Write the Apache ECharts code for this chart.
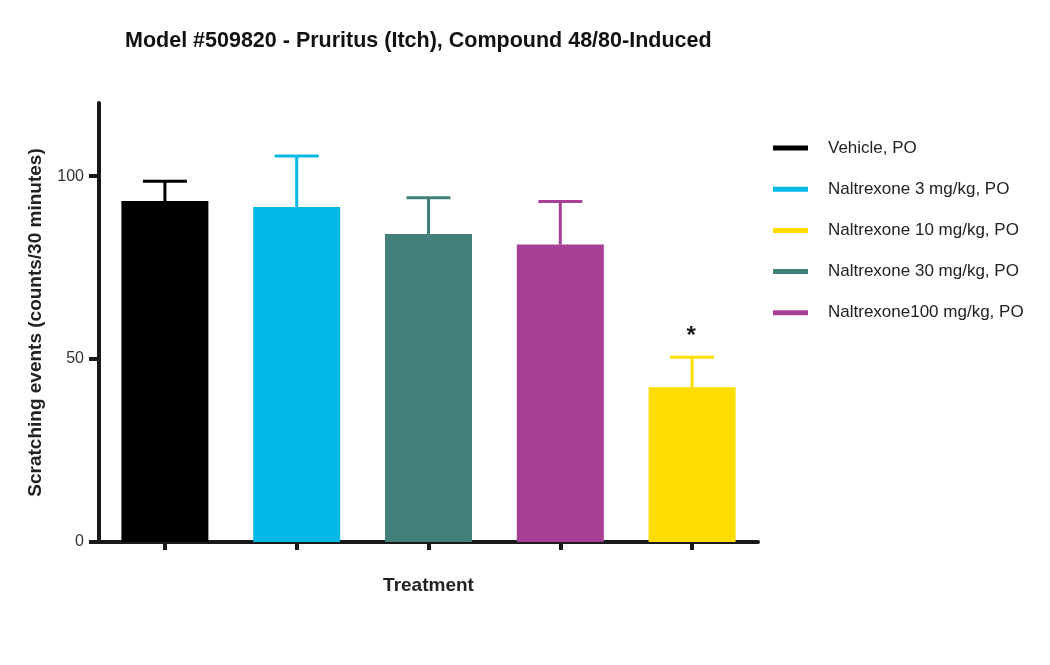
<!DOCTYPE html>
<html>
<head>
<meta charset="utf-8">
<script src="https://cdn.jsdelivr.net/npm/echarts@6/dist/echarts.min.js"></script>
<style>
  html, body { margin: 0; padding: 0; background: #fff; }
  #chart { width: 1050px; height: 665px; }
</style>
</head>
<body>
<div id="chart"></div>
<script>
// bar order on the x axis
var groups = ['Vehicle, PO', 'Naltrexone 3 mg/kg, PO', 'Naltrexone 30 mg/kg, PO', 'Naltrexone100 mg/kg, PO', 'Naltrexone 10 mg/kg, PO'];
var means = [93.2, 91.6, 84.2, 81.3, 42.3];
var sem = [5.4, 13.9, 9.9, 11.8, 8.2];
var signif = ['', '', '', '', '*'];
var colors = ['#000000', '#00b8e5', '#43807c', '#a83f96', '#ffdd00'];
// legend order as in the picture
var legendOrder = ['Vehicle, PO', 'Naltrexone 3 mg/kg, PO', 'Naltrexone 10 mg/kg, PO', 'Naltrexone 30 mg/kg, PO', 'Naltrexone100 mg/kg, PO'];
var yTicks = [0, 50, 100];

var font = 'Liberation Sans, Arial, Helvetica, sans-serif';
var myChart = echarts.init(document.getElementById('chart'));

var series = [];
for (var i = 0; i < groups.length; i++) {
    var d = [];
    for (var j = 0; j < groups.length; j++) {
        d.push(j == i ? means[i] : '-');
    }
    series.push({
        name: groups[i],
        type: 'bar',
        barWidth: '66%',
        barGap: '-100%',
        itemStyle: { color: colors[i] },
        data: d
    });
}

var errData = [];
for (var i = 0; i < groups.length; i++) {
    errData.push([i, means[i], means[i] + sem[i]]);
}
series.push({
    name: 'err',
    type: 'custom',
    z: 5,
    data: errData,
    renderItem: function (params, api) {
        var idx = api.value(0);
        var base = api.coord([idx, api.value(1)]);
        var top = api.coord([idx, api.value(2)]);
        var c = colors[idx];
        var children = [
            { type: 'line', shape: { x1: base[0], y1: base[1], x2: top[0], y2: top[1] }, style: { stroke: c, lineWidth: 3 } },
            { type: 'line', shape: { x1: top[0] - 22, y1: top[1], x2: top[0] + 22, y2: top[1] }, style: { stroke: c, lineWidth: 3 } }
        ];
        if (signif[idx]) {
            children.push({
                type: 'text',
                style: {
                    text: signif[idx], x: top[0] - 1, y: top[1] - 21,
                    fill: '#1a1a1a', font: 'bold 24px ' + font,
                    textAlign: 'center', textVerticalAlign: 'middle'
                }
            });
        }
        return { type: 'group', children: children };
    }
});

option = {
    animation: false,
    backgroundColor: '#fff',
    title: {
        text: 'Model #509820 - Pruritus (Itch), Compound 48/80-Induced',
        left: 120,
        top: 25,
        textStyle: { fontFamily: font, fontWeight: 'bold', fontSize: 21.5, color: '#111' }
    },
    legend: {
        data: legendOrder,
        orient: 'vertical',
        left: 773,
        top: 138,
        padding: 0,
        icon: 'rect',
        itemWidth: 35,
        itemHeight: 5,
        itemGap: 21.2,
        textStyle: { fontFamily: font, fontSize: 17, color: '#222', lineHeight: 20, padding: [0, 0, 0, 15] }
    },
    grid: { left: 99, right: 292, top: 103, bottom: 123 },
    xAxis: {
        type: 'category',
        data: groups,
        name: 'Treatment',
        nameLocation: 'middle',
        nameGap: 34,
        nameTextStyle: { fontFamily: font, fontWeight: 'bold', fontSize: 19, color: '#222' },
        axisLine: { lineStyle: { color: '#1a1a1a', width: 4 } },
        axisTick: { show: true, interval: 0, alignWithLabel: true, length: 8, lineStyle: { color: '#1a1a1a', width: 4 } },
        axisLabel: { show: false, interval: 0 }
    },
    yAxis: {
        type: 'value',
        min: 0,
        max: 120,
        name: 'Scratching events (counts/30 minutes)',
        nameLocation: 'middle',
        nameGap: 54,
        nameTextStyle: { fontFamily: font, fontWeight: 'bold', fontSize: 19, color: '#222' },
        axisLine: { show: true, lineStyle: { color: '#1a1a1a', width: 4 } },
        axisTick: { show: true, customValues: yTicks, length: 10, lineStyle: { color: '#1a1a1a', width: 4 } },
        axisLabel: { customValues: yTicks, fontFamily: font, fontSize: 16, color: '#333', margin: 15 },
        splitLine: { show: false }
    },
    series: series
};
myChart.setOption(option);
</script>
</body>
</html>
